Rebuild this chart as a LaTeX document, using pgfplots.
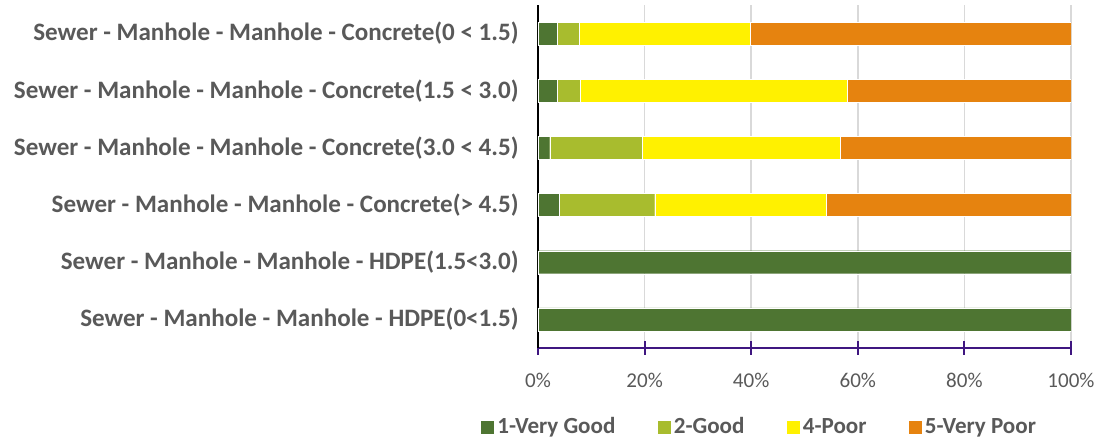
\documentclass[border=0pt]{standalone}
\usepackage{pgfplots}
\pgfplotsset{compat=1.18}
\usepackage{fontspec}
\setmainfont{Carlito}

\definecolor{vgood}{HTML}{4E7532}
\definecolor{good}{HTML}{A8BC2E}
\definecolor{poor}{HTML}{FFF100}
\definecolor{vpoor}{HTML}{E6830F}
\definecolor{txt}{HTML}{595959}
\definecolor{baseaxis}{HTML}{3F1680}

\begin{document}
\begin{tikzpicture}[x=1pt,y=1pt]
% overall canvas: 1 px = 0.75 pt
\useasboundingbox (-403.5,-69.75) rectangle (423,261);
\begin{axis}[
  at={(0,0)}, anchor=south west,
  scale only axis,
  width=399.75pt, height=257.25pt,
  xbar stacked,
  bar width=17.25pt,
  xmin=0, xmax=100,
  ymin=-0.5, ymax=5.5,
  ytick={0,...,5},
  yticklabels={
    Sewer - Manhole - Manhole - HDPE(0<1.5),
    Sewer - Manhole - Manhole - HDPE(1.5<3.0),
    Sewer - Manhole - Manhole - Concrete(> 4.5),
    Sewer - Manhole - Manhole - Concrete(3.0 < 4.5),
    Sewer - Manhole - Manhole - Concrete(1.5 < 3.0),
    Sewer - Manhole - Manhole - Concrete(0 < 1.5)},
  yticklabel style={font=\fontsize{18.8}{21}\selectfont\bfseries, text=txt},
  ytick style={draw=none},
  y tick label style={xshift=-6pt},
  xtick={0,20,...,100},
  xticklabels={0\%,20\%,40\%,60\%,80\%,100\%},
  xticklabel style={font=\fontsize{15.8}{18}\selectfont, text=txt, yshift=-10pt},
  major tick length=10pt,
  tick align=center,
  xtick style={baseaxis, line width=1.5pt},
  xmajorgrids,
  major x grid style={gray!30, line width=1.1pt},
  axis x line*=bottom,
  axis y line*=left,
  x axis line style={baseaxis, line width=1.6pt, -},
  y axis line style={black, line width=1.6pt, -},
  legend columns=4,
  legend style={draw=none, at={(0.4156,-0.230)}, anchor=center,
    font=\fontsize{17.3}{20}\selectfont\bfseries, text=txt,
    /tikz/every even column/.append style={column sep=29pt}},
  legend image code/.code={\fill[#1] (0pt,-5.25pt) rectangle (10.5pt,5.25pt);},
  every axis plot/.append style={draw=white, line width=0.3pt},
]
\addplot[fill=vgood] coordinates {(100,0) (100,1) (3.9,2) (2.2,3) (3.6,4) (3.6,5)};
\addplot[fill=good]  coordinates {(0,0) (0,1) (18.0,2) (17.3,3) (4.3,4) (4.1,5)};
\addplot[fill=poor]  coordinates {(0,0) (0,1) (32.1,2) (37.2,3) (50.1,4) (32.2,5)};
\addplot[fill=vpoor] coordinates {(0,0) (0,1) (46.0,2) (43.3,3) (42.0,4) (60.1,5)};
\legend{1-Very Good, 2-Good, 4-Poor, 5-Very Poor}
\end{axis}
\end{tikzpicture}
\end{document}
